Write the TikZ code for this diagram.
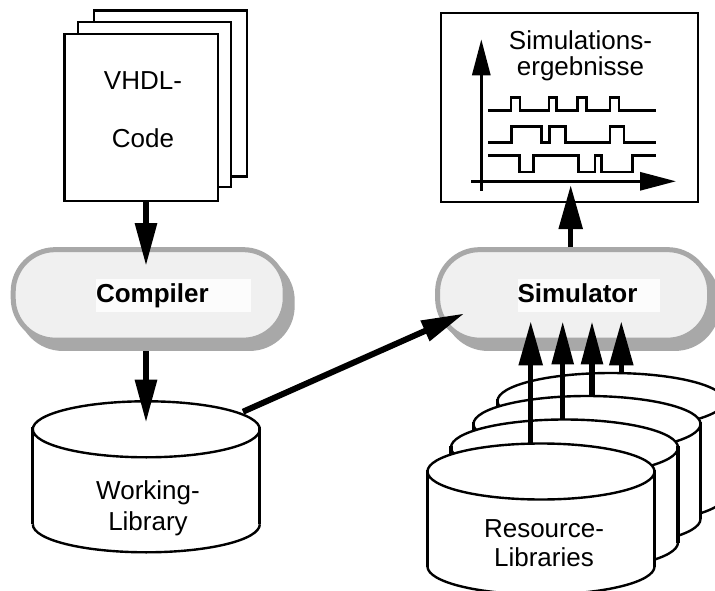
\documentclass[tikz,border=0pt]{standalone}
\usepackage{fontspec}
\setmainfont{Liberation Sans}
\usetikzlibrary{arrows.meta}
\definecolor{pillgrey}{HTML}{A8A8A8}
\definecolor{pillfill}{HTML}{F0F0F0}
\definecolor{labelfill}{HTML}{FCFCFC}
\tikzset{
  x=1pt,y=-1pt,
  txt/.style={font=\fontsize{26}{26}\selectfont,inner sep=0pt,align=center,anchor=base},
  sheet/.style={draw=black,fill=white,line width=2.4pt,inner sep=0pt},
  pill/.style={draw=pillgrey,fill=pillfill,line width=5pt,rounded corners=42pt,inner sep=0pt,minimum width=272pt,minimum height=90.5pt},
  pillshadow/.style={fill=pillgrey,rounded corners=45pt,inner sep=0pt,minimum width=277pt,minimum height=95.5pt},
  plate/.style={fill=labelfill,inner sep=0pt,text width=#1,align=left,text height=23pt,text depth=9.7pt,font=\fontsize{26}{26}\selectfont\bfseries},
  bigarrow/.style={line width=6pt,-{Triangle[length=43pt,width=21pt]}},
  fatarrow/.style={line width=5.5pt,-{Triangle[length=44pt,width=23pt]}},
  axisarrow/.style={line width=3pt,-{Triangle[length=36pt,width=18pt]}},
  wave/.style={line width=2.4pt,miter limit=10},
  drumbox/.style={inner sep=0pt,minimum width=227pt,minimum height=151pt},
}
\newcommand{\drum}[3]{%
  \node[drumbox] (#1) at (#2,#3+47.5) {};
  \fill[white] (#2-113.5,#3) arc[start angle=180,end angle=360,x radius=113.5,y radius=28]
    -- (#2+113.5,#3+95) arc[start angle=0,end angle=180,x radius=113.5,y radius=28] -- cycle;
  \draw[line width=2.4pt] (#2-113.5,#3) arc[start angle=180,end angle=360,x radius=113.5,y radius=28]
    arc[start angle=0,end angle=-180,x radius=113.5,y radius=-28];
  \draw[line width=2.4pt] (#2-113.5,#3+95) arc[start angle=180,end angle=0,x radius=113.5,y radius=28];
  \draw[line width=3.2pt] (#2-113.5,#3-2) -- (#2-113.5,#3+95) (#2+113.5,#3-2) -- (#2+113.5,#3+95);
}
\begin{document}
\begin{tikzpicture}
\useasboundingbox (0,0) rectangle (715,591);
\clip (0,0) rectangle (715,591);
\fill[white] (0,0) rectangle (715,591);

% VHDL stack
\node[sheet,minimum width=152.7pt,minimum height=166pt] (sheetc) at (170.4,93.7) {};
\node[sheet,minimum width=153pt,minimum height=165.3pt] (sheetb) at (154.2,104.4) {};
\node[sheet,minimum width=153.4pt,minimum height=166.7pt] (sheeta) at (141,117.4) {};
\node[txt] (vhdl) at (143,147.7) {VHDL-\\[32.4pt]Code};

% Pills
\node[pillshadow] (compilershadow) at (156.2,303.2) {};
\node[pill] (compiler) at (149.2,294.9) {};
\node[plate=154.7pt] (compilerlabel) at (173.35,295.35) {Compiler};
\node[pillshadow] (simulatorshadow) at (581.4,303.2) {};
\node[pill] (simulator) at (573.6,294.9) {};
\node[plate=142pt] (simulatorlabel) at (588.5,295.35) {Simulator};

% Results box
\node[sheet,minimum width=257pt,minimum height=188.7pt] (results) at (569.2,107.65) {};
\node[txt] (restext) at (580.5,76) {Simulations-\\ergebnisse};
\draw[axisarrow] (481.3,190.7) -- (481.3,39.3);
\draw[axisarrow] (471,181.3) -- (676,181.3);
\begin{scope}[shift={(430,0)},x=0.33333pt,y=-0.33333pt]
\draw[wave] (174,331) -| (243,292) -| (270,331) -| (357,292) -| (380,331) -| (443,292) -| (470,331) -| (540,292) -| (567,331) -- (678,331);
\draw[wave] (174,428) -| (245,380) -| (335,428) -| (358,380) -| (407,428) -| (540,380) -| (582,428) -- (678,428);
\draw[wave] (174,467) -| (268,516) -| (310,467) -| (445,516) -| (495,467) -| (515,516) -| (607,467) -- (678,467);
\end{scope}

% Working library
\drum{work}{146.3}{429.3}
\node[txt] (worktext) at (148,530) {Working-\\[4.7pt]Library};

% Resource libraries
\drum{resd}{611}{401}
\drum{resc}{587}{424}
\drum{resb}{564.5}{447.5}
\drum{resa}{541}{471.5}
\node[txt] (restxt) at (544,566.7) {Resource-\\[3.7pt]Libraries};

% Connector end points
\coordinate (tipcompiler) at (146,266);
\coordinate (tipwork) at (146,422.7);
\coordinate (workout) at (243,411.7);
\coordinate (tipsim) at (464.3,313.5);
\coordinate (tipresults) at (570.7,185);
\coordinate (tipa) at (530.7,321.3);
\coordinate (tipb) at (562.7,321.3);
\coordinate (tipc) at (592,321.3);
\coordinate (tipd) at (621.3,321.3);

% Connectors
\draw[bigarrow] (sheeta.south -| tipcompiler) -- (tipcompiler);
\draw[bigarrow] (compilershadow.south -| tipwork) -- (tipwork);
\draw[bigarrow] (workout) -- (tipsim);
\draw[fatarrow] (simulator.north -| tipresults) -- (tipresults);
\draw[fatarrow] (resa.north -| tipa) -- (tipa);
\draw[bigarrow,line width=5.5pt] (resb.north -| tipb) -- (tipb);
\draw[bigarrow,line width=5.5pt] (resc.north -| tipc) -- (tipc);
\draw[fatarrow] (resd.north -| tipd) -- (tipd);
\end{tikzpicture}
\end{document}
